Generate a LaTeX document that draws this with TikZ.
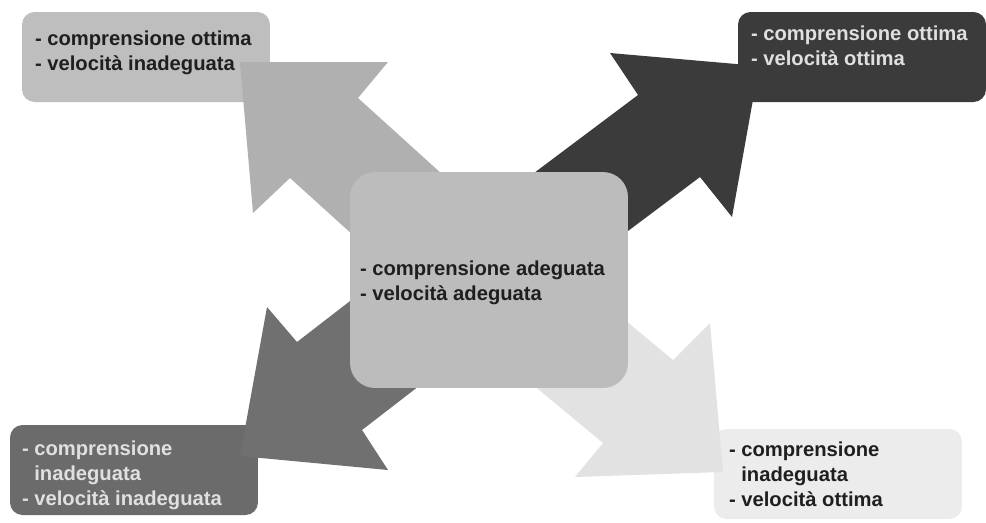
\documentclass[tikz,border=0pt]{standalone}
\usepackage{fontspec}
\setmainfont{Liberation Sans}
\usetikzlibrary{positioning}

\definecolor{tlfill}{HTML}{BEBEBE}
\definecolor{tlarrow}{HTML}{B0B0B0}
\definecolor{trfill}{HTML}{3B3B3B}
\definecolor{blfill}{HTML}{6B6B6B}
\definecolor{blarrow}{HTML}{707070}
\definecolor{brfill}{HTML}{ECECEC}
\definecolor{brarrow}{HTML}{E2E2E2}
\definecolor{midfill}{HTML}{BCBCBC}

\begin{document}
\begin{tikzpicture}[x=0.02cm, y=-0.02cm,
  corner/.style={rounded corners=0.25cm, minimum width=4.96cm, minimum height=1.8cm, inner sep=0pt},
  txt/.style={inner sep=0pt, align=left, text=black!88, font=\fontsize{11.5}{14.2}\selectfont\bfseries},
  lighttxt/.style={txt, text=black!12}]
  \useasboundingbox (0,0) rectangle (986,522);
  % corner boxes
  \node[corner, fill=tlfill] (tl) at (146,57) {};
  \node[corner, fill=trfill] (tr) at (862,57) {};
  \node[corner, fill=blfill] (bl) at (134,470) {};
  \node[corner, fill=brfill] (br) at (838,474) {};
  % arrows, tails hidden under the centre box
  \fill[tlarrow] (240,62) -- (388,62) -- (358,98) -- (506,232) -- (438,312) -- (290,178) -- (253,213) -- cycle;
  \fill[trfill] (759,66) -- (732,217) -- (700,177) -- (524,309) -- (462,227) -- (638,95) -- (610,53) -- cycle;
  \fill[blarrow] (240,456) -- (267,307) -- (297,342) -- (455,220) -- (520,308) -- (362,430) -- (388,470) -- cycle;
  \fill[brarrow] (723,472) -- (575,477) -- (603,443) -- (449,315) -- (519,232) -- (673,360) -- (710,323) -- cycle;
  % centre box
  \node[rounded corners=0.5cm, fill=midfill, minimum width=5.56cm, minimum height=4.32cm, inner sep=0pt] (mid) at (489,280) {};
  % texts
  \node[txt, below right=0.38cm and 0.26cm of tl.north west] {- comprensione ottima\\- velocità inadeguata};
  \node[lighttxt, below right=0.28cm and 0.26cm of tr.north west] {- comprensione ottima\\- velocità ottima};
  \node[lighttxt, below right=0.32cm and 0.24cm of bl.north west] {- comprensione\\\phantom{- }inadeguata\\- velocità inadeguata};
  \node[txt, below right=0.26cm and 0.3cm of br.north west] {- comprensione\\\phantom{- }inadeguata\\- velocità ottima};
  \node[txt, right=0.2cm of mid.west, yshift=-0.06cm] {- comprensione adeguata\\- velocità adeguata};
\end{tikzpicture}
\end{document}
